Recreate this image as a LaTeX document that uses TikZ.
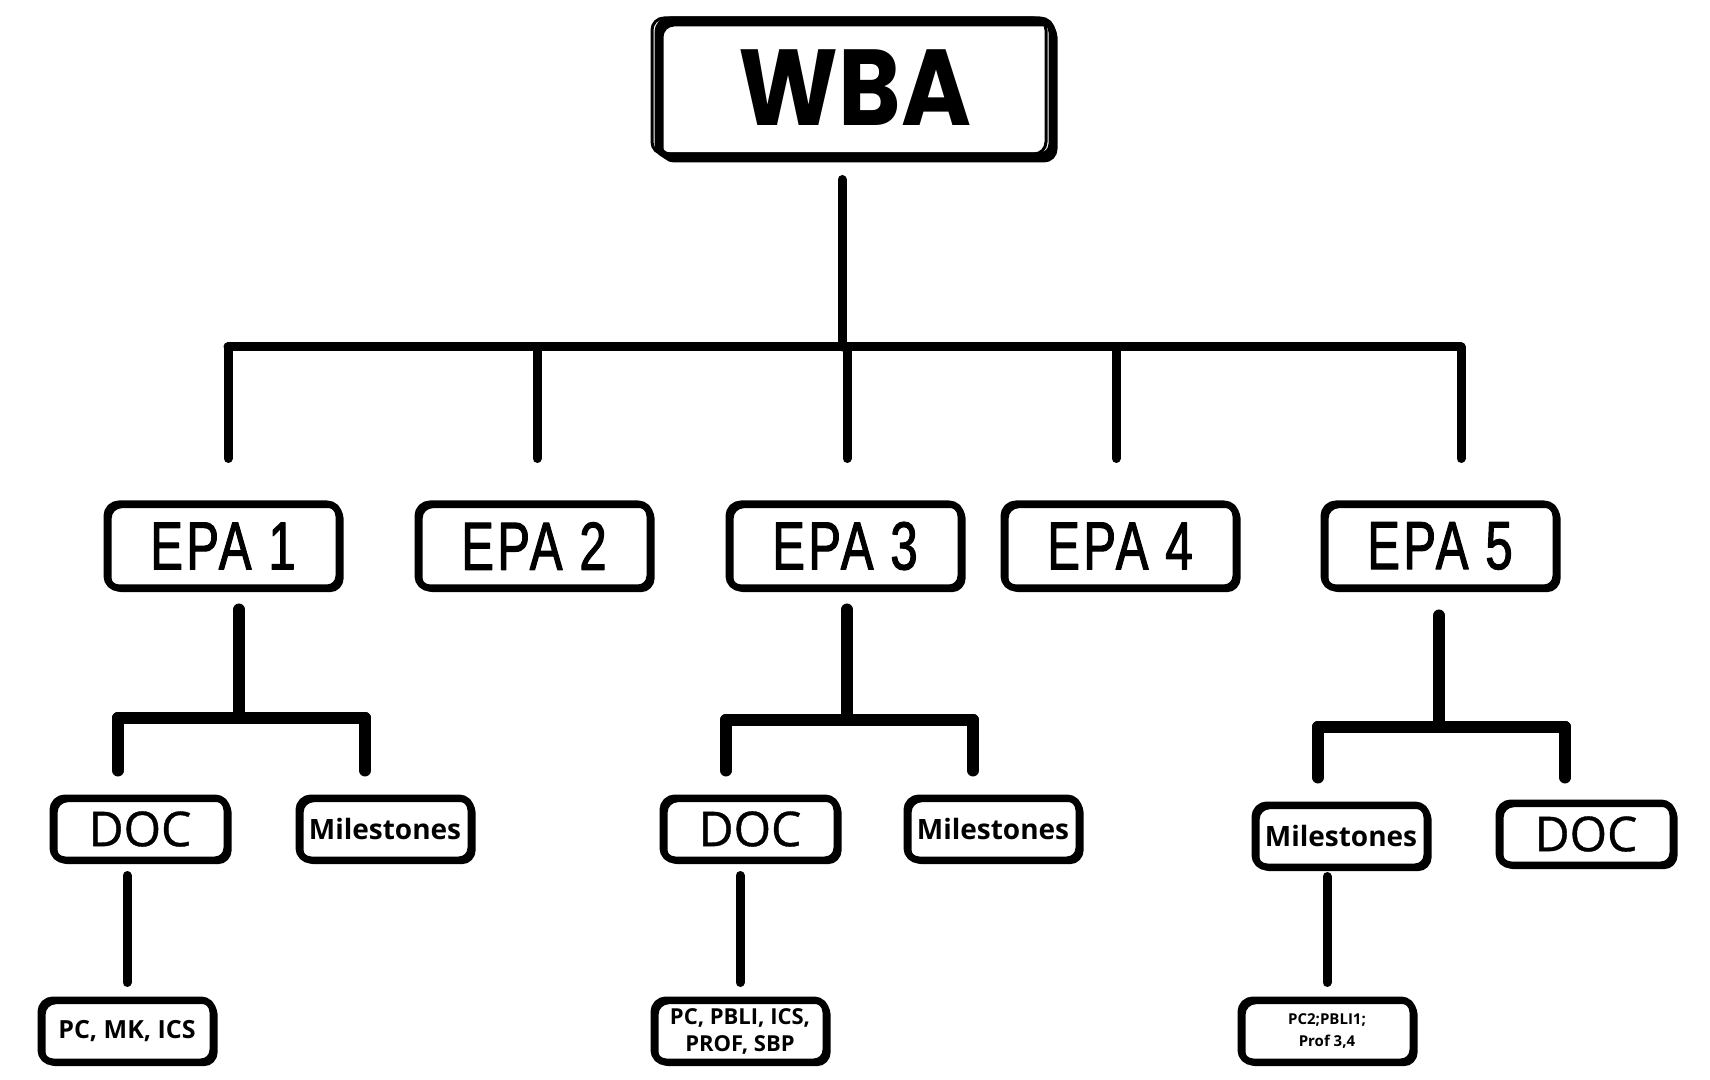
\documentclass[tikz,border=0pt]{standalone}
\usepackage{fontspec}
\usepackage{tikz}
\newfontfamily\wbafont[FakeStretch=0.88]{Poppins}
\newfontfamily\epafont[FakeStretch=0.72,FakeBold=1.6,LetterSpace=5]{Liberation Sans}
\newfontfamily\docfont{Open Sans}
\newfontfamily\docheavy[FakeBold=0.8]{Open Sans}

\begin{document}
\begin{tikzpicture}[
    x = 0.5pt, % one unit per pixel
    y = -0.5pt, % y grows downwards
    line cap = round, % round line ends
    line join = round,
    link/.style = {line width=4.5pt}, % tree lines
    sublink/.style = {line width=6pt}
  ]

  \tikzstyle{box}=[draw, line width=3.5pt, rounded corners=6pt, inner sep=0pt,
    preaction={draw, line width=1.8pt, transform canvas={xshift=1.4pt, yshift=-1.2pt}}]
  \tikzstyle{wbabox}=[box, minimum width=197pt, minimum height=68pt,
    preaction={draw, line width=1.5pt, transform canvas={xshift=-3pt, yshift=1pt}},
    preaction={draw, line width=1.5pt, transform canvas={xshift=2pt, yshift=-2.5pt}},
    font=\wbafont\bfseries\fontsize{54}{54}\selectfont]
  \tikzstyle{epa}=[box, minimum width=116pt, minimum height=42pt,
    font=\epafont\fontsize{34}{34}\selectfont]
  \tikzstyle{doc}=[box, minimum width=87pt, minimum height=31pt,
    font=\docheavy\fontsize{24}{24}\selectfont]
  \tikzstyle{mile}=[box, minimum width=86pt, minimum height=31pt,
    font=\docfont\bfseries\fontsize{14}{14}\selectfont]
  \tikzstyle{leaf}=[box, minimum width=86pt, minimum height=31pt, align=center]

  \useasboundingbox (0,0) rectangle (1710,1080);

  % top
  \node[wbabox] (wba) at (855,88) {WBA};

  % EPA row
  \node[epa] (e1) at (223,546) {EPA 1};
  \node[epa] (e2) at (534,546) {EPA 2};
  \node[epa] (e3) at (845,546) {EPA 3};
  \node[epa] (e4) at (1120,546) {EPA 4};
  \node[epa] (e5) at (1440,546) {EPA 5};

  % under EPA 1
  \node[doc] (doc1) at (140,829) {DOC};
  \node[mile] (mil1) at (385,829) {Milestones};
  \node[leaf, font=\docfont\bfseries\fontsize{12.5}{14}\selectfont] (pc1) at (127,1031) {PC, MK, ICS};

  % under EPA 3
  \node[doc] (doc3) at (750,829) {DOC};
  \node[mile] (mil3) at (993,829) {Milestones};
  \node[leaf, font=\docfont\bfseries\fontsize{11}{13.5}\selectfont] (pc3) at (740,1031) {PC, PBLI, ICS,\\PROF, SBP};

  % under EPA 5
  \node[mile] (mil5) at (1341,836) {Milestones};
  \node[doc] (doc5) at (1586,834) {DOC};
  \node[leaf, font=\docfont\bfseries\fontsize{7.5}{11}\selectfont] (pc5) at (1327,1031) {PC2;PBLI1;\\Prof 3,4};

  % main tree
  \coordinate (hub) at (842,347);
  \coordinate (t1) at (228,347);
  \coordinate (t2) at (537,347);
  \coordinate (t3) at (847,347);
  \coordinate (t4) at (1116,347);
  \coordinate (t5) at (1461,347);
  \draw[link, shorten <=10pt] (wba.south -| hub) -- (hub);
  \draw[link] (t1) -- (t5);
  \foreach \i in {1,...,5}
    \draw[link, shorten >=21pt] (t\i) -- (t\i |- e\i.north);

  % EPA 1 branch
  \coordinate (a0) at (239,718);
  \coordinate (a1) at (118,718);
  \coordinate (a2) at (365,718);
  \draw[sublink, shorten <=9pt] (e1.south -| a0) -- (a0);
  \draw[sublink] (a1) -- (a2);
  \draw[sublink, shorten >=12pt] (a1) -- (a1 |- doc1.north);
  \draw[sublink, shorten >=12pt] (a2) -- (a2 |- mil1.north);
  \draw[link, shorten <=6pt, shorten >=7pt] (doc1.south -| pc1) -- (pc1.north);

  % EPA 3 branch
  \coordinate (b0) at (847,720);
  \coordinate (b1) at (726,720);
  \coordinate (b2) at (973,720);
  \draw[sublink, shorten <=9pt] (e3.south -| b0) -- (b0);
  \draw[sublink] (b1) -- (b2);
  \draw[sublink, shorten >=12pt] (b1) -- (b1 |- doc3.north);
  \draw[sublink, shorten >=12pt] (b2) -- (b2 |- mil3.north);
  \draw[link, shorten <=6pt, shorten >=7pt] (doc3.south -| pc3) -- (pc3.north);

  % EPA 5 branch
  \coordinate (c0) at (1439,727);
  \coordinate (c1) at (1318,727);
  \coordinate (c2) at (1565,727);
  \draw[sublink, shorten <=12pt] (e5.south -| c0) -- (c0);
  \draw[sublink] (c1) -- (c2);
  \draw[sublink, shorten >=12pt] (c1) -- (c1 |- mil5.north);
  \draw[sublink, shorten >=11pt] (c2) -- (c2 |- doc5.north);
  \draw[link, shorten <=3pt, shorten >=7pt] (mil5.south -| pc5) -- (pc5.north);

\end{tikzpicture}
\end{document}
